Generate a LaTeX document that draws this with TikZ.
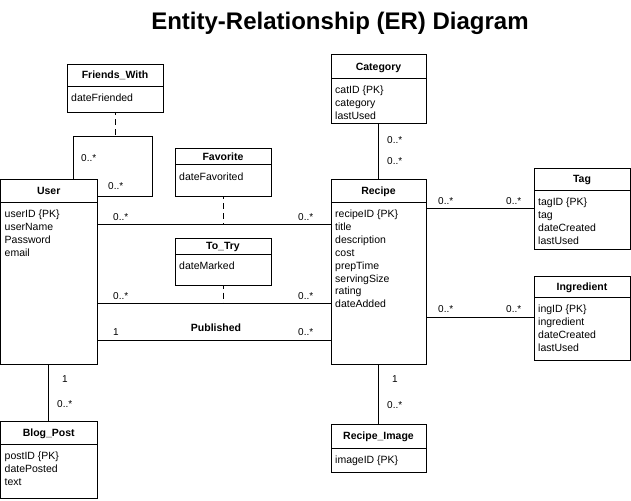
\documentclass[tikz,border=0pt]{standalone}
\usepackage{fontspec}
\setmainfont{Liberation Sans}
\tikzset{
  eline/.style={line width=0.9pt, draw=black},
  ebox/.style={eline, rectangle, inner sep=0pt, outer sep=0pt, anchor=north west},
  etitle/.style={font=\fontsize{10.5}{12.9}\selectfont\bfseries, inner sep=0pt, text height=7.5pt, text depth=0pt},
  eattr/.style={font=\fontsize{10.5}{12.9}\selectfont, inner sep=0pt, anchor=base west},
  mult/.style={font=\fontsize{10}{12}\selectfont, inner sep=0pt, anchor=base west},
  relname/.style={font=\fontsize{10.5}{12.9}\selectfont\bfseries, inner sep=0pt, anchor=base},
  dashline/.style={eline, dash pattern=on 6pt off 4pt, dash phase=3pt},
}
\newcommand\erentity[8]{%
  \node[ebox, minimum width={(#4-#2)*1pt}, minimum height={(#5-#3)*1pt}] (#1) at (#2,#3) {};
  \draw[eline] (#2,#6) -- (#4,#6);
  \node[etitle] (#1-title) at ({(#2+#4)/2},{(#3+#6)/2}) {#7};
  \foreach \a [count=\i] in {#8} \node[eattr] (#1-a\i) at ({#2+4},{#6+15.5+(\i-1)*12.9}) {\a};
}
\begin{document}
\begin{tikzpicture}[x=1pt,y=-1pt]
\useasboundingbox (0,0) rectangle (631,500);
\node[font=\fontsize{24}{28}\selectfont\bfseries, inner sep=0pt, anchor=base] (title) at (340,30) {Entity-Relationship (ER) Diagram};

\erentity{fw}{67}{64}{163}{112}{86}{Friends\_With}{dateFriended}
\erentity{fav}{175}{148}{271}{196}{164.5}{Favorite}{dateFavorited}
\erentity{totry}{175}{238}{271}{285.5}{254}{To\_Try}{dateMarked}
\erentity{user}{0.5}{179}{97}{364}{202}{User}{userID \{PK\},userName,Password,email}
\erentity{blog}{0.5}{421}{97}{498.5}{444}{Blog\_Post}{postID \{PK\},datePosted,text}
\erentity{cat}{331}{54.5}{426}{123}{78.5}{Category}{catID \{PK\},category,lastUsed}
\erentity{recipe}{331}{179}{426}{364}{202}{Recipe}{recipeID \{PK\},title,description,cost,prepTime,servingSize,rating,dateAdded}
\erentity{tag}{534}{168}{630}{249}{190}{Tag}{tagID \{PK\},tag,dateCreated,lastUsed}
\erentity{ing}{534}{276}{630}{360}{297}{Ingredient}{ingID \{PK\},ingredient,dateCreated,lastUsed}
\erentity{rimg}{331}{424}{426}{472}{448}{Recipe\_Image}{imageID \{PK\}}

% self relationship Friends_With
\coordinate (loopc) at (152,136);
\draw[eline] (user.north -| 73,0) |- (loopc) |- (user.east |- 0,196);
\draw[dashline] (fw.south) -- (fw.south |- loopc);
\node[mult] (m1) at (81,161.5) {0..*};
\node[mult] (m2) at (108,189.5) {0..*};

% Favorite
\draw[eline] (user.east |- 0,224.5) -- (recipe.west |- 0,224.5);
\draw[dashline] (fav.south) -- (fav.south |- 0,224.5);
\node[mult] (m3) at (113,220) {0..*};
\node[mult] (m4) at (298,220) {0..*};

% To_Try
\draw[eline] (user.east |- 0,303.5) -- (recipe.west |- 0,303.5);
\draw[dashline] (totry.south) -- (totry.south |- 0,303.5);
\node[mult] (m5) at (113,299) {0..*};
\node[mult] (m6) at (298,299) {0..*};

% Published
\draw[eline] (user.east |- 0,340) -- (recipe.west |- 0,340);
\node[relname] (pub) at (216,331) {Published};
\node[mult] (m7) at (113,335.5) {1};
\node[mult] (m8) at (298,335.5) {0..*};

% User - Blog_Post
\draw[eline] (user.south) -- (blog.north);
\node[mult] (m9) at (62,382.5) {1};
\node[mult] (m10) at (57,407.5) {0..*};

% Category - Recipe
\draw[eline] (cat.south) -- (recipe.north);
\node[mult] (m11) at (387,143.5) {0..*};
\node[mult] (m12) at (387,164.5) {0..*};

% Recipe - Tag
\draw[eline] (recipe.east |- 0,208.5) -- (tag.west |- 0,208.5);
\node[mult] (m13) at (438,204) {0..*};
\node[mult] (m14) at (506,204) {0..*};

% Recipe - Ingredient
\draw[eline] (recipe.east |- 0,317) -- (ing.west |- 0,317);
\node[mult] (m15) at (438,312.5) {0..*};
\node[mult] (m16) at (506,312.5) {0..*};

% Recipe - Recipe_Image
\draw[eline] (recipe.south) -- (rimg.north);
\node[mult] (m17) at (392,382.5) {1};
\node[mult] (m18) at (387,408.5) {0..*};
\end{tikzpicture}
\end{document}
